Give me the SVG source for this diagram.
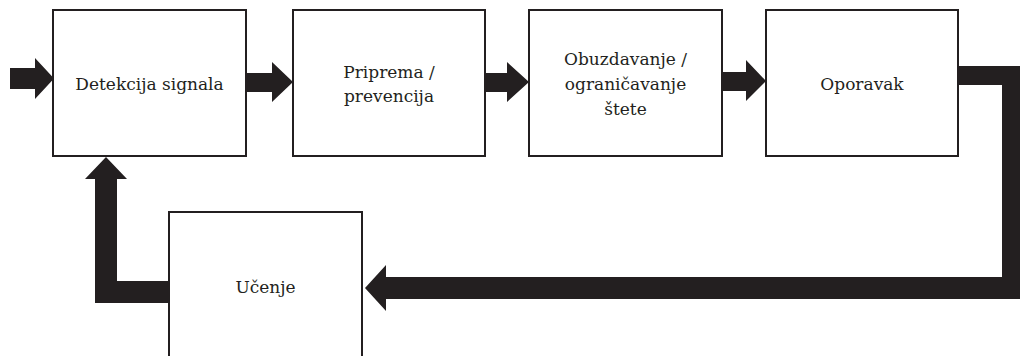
<svg xmlns="http://www.w3.org/2000/svg" width="1020" height="356" viewBox="0 0 1020 356">
<style>
.box{fill:#fff;stroke:#231f20;stroke-width:2}
.lbl{font-family:"DejaVu Serif",serif;font-size:17px;fill:#231f20;text-anchor:middle}
.arr{fill:#231f20}
</style>
<rect width="1020" height="356" fill="#fff"/>
<g id="connectors">
<polygon class="arr" points="10,68 35,68 35,58 54,78.5 35,99 35,89 10,89"/>
<polygon class="arr" points="246,73 272,73 272,62 293,82 272,102 272,92 246,92"/>
<polygon class="arr" points="485,73 507,73 507,62 529,82 507,102 507,92 485,92"/>
<polygon class="arr" points="722,72 746,72 746,60 766,81 746,101 746,91 722,91"/>
<polygon class="arr" points="958,66 1022,66 1022,299 386,299 386,311 365,288 386,265 386,277 1002,277 1002,85 958,85"/>
<polygon class="arr" points="169,281 117,281 117,179 127,179 106,157 85,179 95,179 95,303 169,303"/>
</g>
<g id="n1">
<rect class="box" x="53" y="10" width="193" height="146"/>
<text class="lbl" x="149.5" y="90">Detekcija signala</text>
</g>
<g id="n2">
<rect class="box" x="293" y="10" width="192" height="146"/>
<text class="lbl" x="389" y="78">Priprema /</text>
<text class="lbl" x="389" y="102">prevencija</text>
</g>
<g id="n3">
<rect class="box" x="529" y="10" width="193" height="146"/>
<text class="lbl" x="625.5" y="65">Obuzdavanje /</text>
<text class="lbl" x="625.5" y="90">ograničavanje</text>
<text class="lbl" x="625.5" y="115">štete</text>
</g>
<g id="n4">
<rect class="box" x="766" y="10" width="192" height="146"/>
<text class="lbl" x="862" y="90">Oporavak</text>
</g>
<g id="n5">
<rect class="box" x="169" y="212" width="193" height="146"/>
<text class="lbl" x="265.5" y="293">Učenje</text>
</g>
</svg>
